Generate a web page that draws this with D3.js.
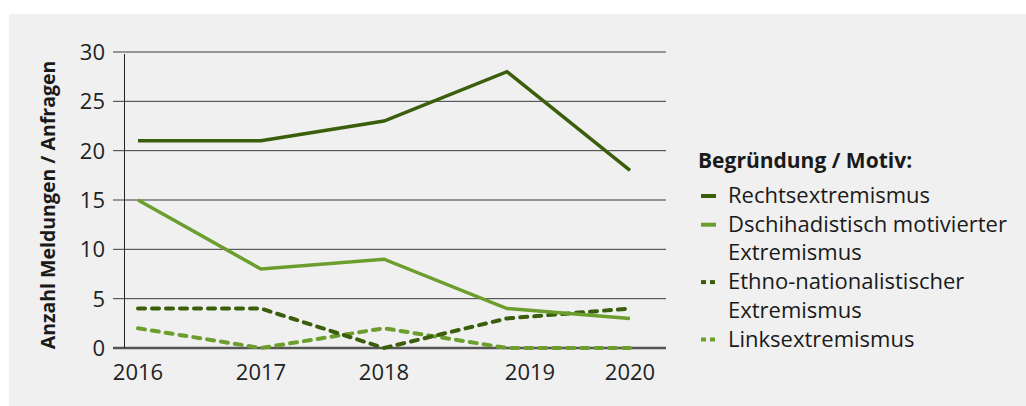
<!DOCTYPE html>
<html>
<head>
<meta charset="utf-8">
<script src="https://cdn.jsdelivr.net/npm/d3@7"></script>
<style>
  body { margin: 0; background: #fff; }
  svg { display: block; font-family: "Open Sans", sans-serif; }
</style>
</head>
<body>
<div id="chart"></div>
<script>
// data
const years = ["2016", "2017", "2018", "2019", "2020"];
const rechts = [21, 21, 23, 28, 18];
const dschihad = [15, 8, 9, 4, 3];
const ethno = [4, 4, 0, 3, 4];
const links = [2, 0, 2, 0, 0];
const yTicks = [0, 5, 10, 15, 20, 25, 30];

const seriesNames = [
  ["Rechtsextremismus"],
  ["Dschihadistisch motivierter", "Extremismus"],
  ["Ethno-nationalistischer", "Extremismus"],
  ["Linksextremismus"]
];

const dark = "#3a5e0c";
const light = "#6c9e2e";

const series = [
  { values: rechts, color: dark, dashed: false },
  { values: dschihad, color: light, dashed: false },
  { values: ethno, color: dark, dashed: true },
  { values: links, color: light, dashed: true }
];

const width = 1026, height = 406;

const svg = d3.select("#chart")
  .append("svg")
  .attr("width", width)
  .attr("height", height);

// grey panel
svg.append("rect")
  .attr("x", 9).attr("y", 14)
  .attr("width", width - 9).attr("height", height - 14)
  .attr("fill", "#eff0ef");

const x = d3.scalePoint()
  .domain(years)
  .range([138, 630]);

const y = d3.scaleLinear()
  .domain([0, 30])
  .range([348, 52]);

// horizontal grid lines
svg.append("g")
  .selectAll("line")
  .data(yTicks)
  .join("line")
  .attr("x1", 113)
  .attr("x2", 666)
  .attr("y1", d => y(d))
  .attr("y2", d => y(d))
  .attr("stroke", d => d === 0 ? "#555" : "#3a3a3a")
  .attr("stroke-width", d => d === 0 ? 2.5 : 1);

// vertical axis line
svg.append("line")
  .attr("x1", 124.5).attr("x2", 124.5)
  .attr("y1", y(30) + 2).attr("y2", y(0))
  .attr("stroke", "#222")
  .attr("stroke-width", 1);

// y tick labels
svg.append("g")
  .selectAll("text")
  .data(yTicks)
  .join("text")
  .attr("x", 105)
  .attr("y", d => y(d) + 8)
  .attr("text-anchor", "end")
  .attr("fill", "#222")
  .style("font-size", "22px")
  .text(d => d);

// x tick labels (the 2019 label sits a bit right of its point in the original)
svg.append("g")
  .selectAll("text")
  .data(years)
  .join("text")
  .attr("x", d => x(d) + (d === "2019" ? 23 : 0))
  .attr("y", 380)
  .attr("text-anchor", "middle")
  .attr("fill", "#222")
  .style("font-size", "22px")
  .text(d => d);

// y axis title
svg.append("text")
  .attr("transform", "translate(55, 205) rotate(-90)")
  .attr("text-anchor", "middle")
  .attr("fill", "#1a1a1a")
  .style("font-size", "19.5px")
  .style("font-weight", "bold")
  .text("Anzahl Meldungen / Anfragen");

// lines
const line = d3.line()
  .x((d, i) => x(years[i]))
  .y(d => y(d));

// draw dashed first, solid on top like the original
[3, 2, 1, 0].forEach(i => {
  const s = series[i];
  svg.append("path")
    .datum(s.values)
    .attr("fill", "none")
    .attr("stroke", s.color)
    .attr("stroke-width", s.dashed ? 4 : 3.5)
    .attr("stroke-dasharray", s.dashed ? "7,7" : null)
    .attr("stroke-linecap", s.dashed ? "round" : "butt")
    .attr("stroke-linejoin", "miter")
    .attr("d", line);
});

// legend
const legend = svg.append("g");

legend.append("text")
  .attr("x", 698)
  .attr("y", 168)
  .attr("fill", "#1a1a1a")
  .style("font-size", "21px")
  .style("font-weight", "bold")
  .text("Begründung / Motiv:");

const rowH = 28.7;
let row = 0;
seriesNames.forEach((names, i) => {
  const s = series[i];
  const by = 203 + row * rowH;
  if (s.dashed) {
    legend.append("line")
      .attr("x1", 701).attr("x2", 706)
      .attr("y1", by - 7).attr("y2", by - 7)
      .attr("stroke", s.color).attr("stroke-width", 4);
    legend.append("line")
      .attr("x1", 710).attr("x2", 715)
      .attr("y1", by - 7).attr("y2", by - 7)
      .attr("stroke", s.color).attr("stroke-width", 4);
  } else {
    legend.append("line")
      .attr("x1", 701).attr("x2", 716)
      .attr("y1", by - 7).attr("y2", by - 7)
      .attr("stroke", s.color).attr("stroke-width", 4);
  }
  names.forEach(n => {
    legend.append("text")
      .attr("x", 728)
      .attr("y", 203 + row * rowH)
      .attr("fill", "#1a1a1a")
      .style("font-size", "22px")
      .text(n);
    row++;
  });
});
</script>
</body>
</html>
